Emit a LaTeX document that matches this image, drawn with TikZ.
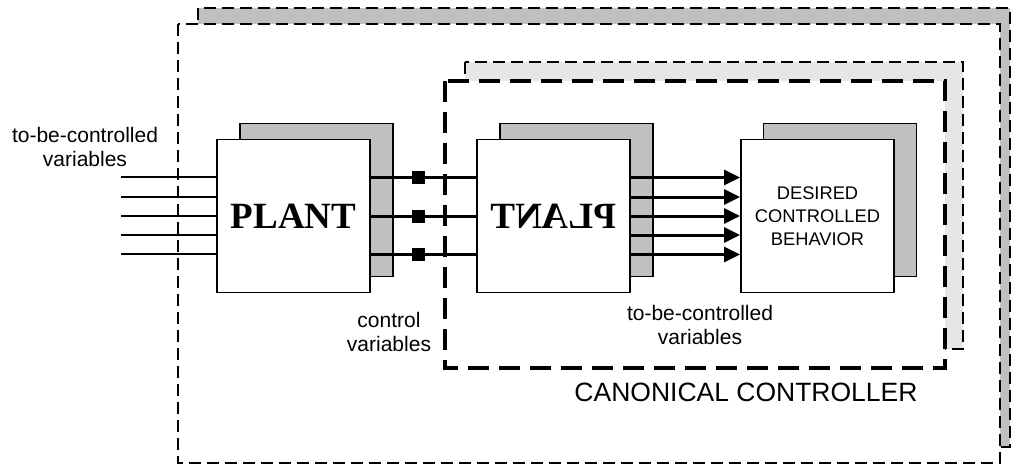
\documentclass[tikz,border=0pt]{standalone}
\usepackage{fontspec}
\setmainfont{Liberation Serif}
\setsansfont{Liberation Sans}
\usetikzlibrary{
  arrows.meta,
  positioning
}
\definecolor{shadegray}{RGB}{192,192,192}
\definecolor{lightshade}{RGB}{230,230,230}

\begin{document}
\begin{tikzpicture}[
  x=1pt, y=-1pt,
  blockbox/.style={
    draw=black,
    fill=white,
    line width=1.8pt,
    minimum width=153pt,
    minimum height=153pt,
    inner sep=0pt,
    align=center
  },
  blockshade/.style={
    blockbox,
    fill=shadegray
  },
  outerframe/.style={
    line width=2.2pt,
    dash pattern=on 12pt off 6pt
  },
  innerframe/.style={
    line width=3.6pt,
    dash pattern=on 21pt off 10pt
  },
  ctrlline/.style={
    line width=3pt
  },
  sqmark/.style={
    fill=black,
    minimum size=13pt,
    inner sep=0pt
  },
  lbl/.style={
    font=\sffamily\fontsize{21}{24}\selectfont,
    align=center
  }
]
  \useasboundingbox (0,0) rectangle (1013,466);

  % Outer frame with its shadow
  \draw[outerframe, fill=shadegray] (198,8) rectangle (1010,447);
  \draw[outerframe, fill=white] (178,24) rectangle (1000,463);

  % Canonical controller frame with its shadow
  \draw[outerframe, fill=lightshade] (465,62) rectangle (963,349);
  \draw[innerframe, fill=white] (445,81) rectangle (945,368);

  % Blocks (shadow first, then the block)
  \node[blockshade] (plantsh) at (316.5,200) {};
  \node[blockbox, font=\bfseries\fontsize{37}{40}\selectfont] (plant) at (293.5,216) {PLANT};
  \node[blockshade] (mirrorsh) at (576.5,200) {};
  \node[blockbox] (mirror) at (553.5,216) {};
  \node[xscale=-1, font=\bfseries\fontsize{37}{40}\selectfont] (mirrortxt) at (mirror.center) {PLANT};
  \node[blockshade] (desiredsh) at (840,200) {};
  \node[blockbox, font=\sffamily\fontsize{18.3}{23}\selectfont] (desired) at (817.5,216)
    {DESIRED\\CONTROLLED\\BEHAVIOR};

  % To-be-controlled variables into the plant
  \foreach \i/\yy in {1/177,2/197,3/216,4/235,5/254} {
    \coordinate (in\i) at (121,\yy);
    \draw[line width=1.9pt] (in\i) -- (in\i -| plant.west);
  }

  % Control variables between the plant and its mirror
  \foreach \dy in {38.5,0,-38.5} {
    \draw[ctrlline] ([yshift=\dy pt]plant.east) -- ([yshift=\dy pt]mirror.west)
      node[sqmark, pos=0.45] {};
  }

  % To-be-controlled variables into the desired behavior
  \foreach \dy in {38.5,19,0,-19,-38.5} {
    \draw[ctrlline, -{Triangle[length=16pt, width=15pt]}] ([yshift=\dy pt]mirror.east) -- ([yshift=\dy pt]desired.west);
  }

  % Labels
  \node[lbl] (lblin) at (85,147) {to-be-controlled\\variables};
  \node[lbl] (lblctrl) at (389,332) {control\\variables};
  \node[lbl] (lblout) at (700,325) {to-be-controlled\\variables};
  \node[font=\sffamily\fontsize{26.5}{30}\selectfont] (lblcc) at (746,392) {CANONICAL CONTROLLER};
\end{tikzpicture}
\end{document}
